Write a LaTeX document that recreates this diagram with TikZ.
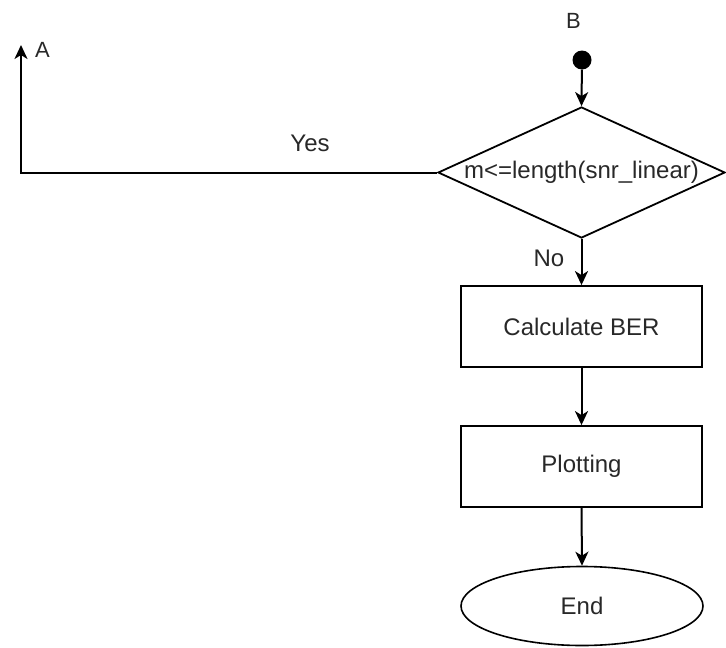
\documentclass[tikz,border=0pt]{standalone}
\usepackage{fontspec}
\setmainfont{Liberation Sans}
\usetikzlibrary{shapes.geometric,arrows.meta}
\definecolor{txt}{RGB}{40,40,40}
\tikzset{
  conn/.style={line width=2pt, draw=black, -{Stealth[length=14pt,width=13pt,inset=4pt]}},
  procbox/.style={draw=black, line width=1.8pt, rectangle, minimum width=241pt, minimum height=81pt, inner sep=0pt, font=\fontsize{24}{29}\selectfont, text=txt},
  decbox/.style={draw=black, line width=1.8pt, diamond, minimum width=287pt, minimum height=131pt, inner sep=0pt},
  termbox/.style={draw=black, line width=1.6pt, ellipse, minimum width=242pt, minimum height=79pt, inner sep=0pt, font=\fontsize{24}{29}\selectfont, text=txt},
  lbl/.style={font=\fontsize{24}{29}\selectfont, text=txt, inner sep=0pt},
  smalllbl/.style={font=\fontsize{22}{26}\selectfont, text=txt, inner sep=0pt}
}
\begin{document}
\begin{tikzpicture}[x=1pt,y=-1pt]
\useasboundingbox (0,0) rectangle (726,648);
\node[smalllbl] (B) at (573.5,21) {B};
\node[circle, fill=black, minimum size=19pt, inner sep=0pt] (dot) at (582,60) {};
\node[decbox] (dec) at (581.5,172.5) {};
\node[lbl] (dectext) at (dec.center) {m<=length(snr\_linear)};
\node[procbox] (ber) at (581.5,326.5) {Calculate BER};
\node[procbox] (plot) at (581.5,466.5) {Plotting};
\node[termbox] (end) at (582,606) {End};
\coordinate (corner) at (21,172.5);
\coordinate (aend) at (21,45);
\node[smalllbl] (A) at (42.5,50) {A};
\node[lbl] (yes) at (310,143) {Yes};
\node[lbl] (no) at (549,258) {No};
\draw[conn] (dot) -- (dec.north);
\draw[conn] (dec.south) -- (ber.north);
\draw[conn] (ber.south) -- (plot.north);
\draw[conn] (plot.south) -- (end.north);
\draw[conn] (dec.west) -- (corner) -- (aend);
\end{tikzpicture}
\end{document}
